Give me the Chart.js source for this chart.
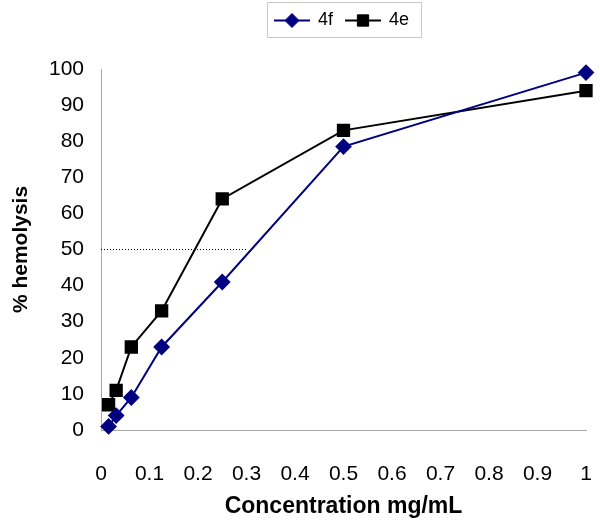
<!doctype html>
<html lang="en">
<head>
<meta charset="utf-8">
<title>Hemolysis</title>
<script src="https://cdn.jsdelivr.net/npm/chart.js@4.4.0/dist/chart.umd.min.js"></script>
<style>
  html, body { margin: 0; padding: 0; background: #fff; }
  .wrapper { width: 600px; height: 525px; }
</style>
</head>
<body>
<div class="wrapper"><canvas id="canvas" width="600" height="525"></canvas></div>
<script>
// concentrations (mg/mL)
var conc = [0.015625, 0.03125, 0.0625, 0.125, 0.25, 0.5, 1];
var hemo4f = [1, 4, 9, 23, 41, 78.5, 99];
var hemo4e = [7, 11, 23, 33, 64, 83, 94];
// dotted 50% reference line
var refX = [0, 0.3];
var refY = [50, 50];
var xTicks = [0, 0.1, 0.2, 0.3, 0.4, 0.5, 0.6, 0.7, 0.8, 0.9, 1];
var yTicks = [0, 10, 20, 30, 40, 50, 60, 70, 80, 90, 100];

function pts(xs, ys) {
  return xs.map(function (x, i) { return { x: x, y: ys[i] }; });
}

var axisGrey = '#a8a8a8';
var font = "'Liberation Sans', Arial, sans-serif";

// excel-style legend: box with line + marker for each series
var legendBox = {
  id: 'legendBox',
  afterDraw: function (chart) {
    var ctx = chart.ctx;
    var items = chart.data.datasets.filter(function (d) { return d.label; });
    ctx.save();
    ctx.font = '18px ' + font;
    var x0 = 267, y0 = 2, w = 154, h = 35;
    ctx.strokeStyle = '#c8c8c8';
    ctx.lineWidth = 1;
    ctx.strokeRect(x0 + 0.5, y0 + 0.5, w, h);
    var x = x0 + 7, cy = y0 + h / 2 + 1;
    items.forEach(function (d) {
      ctx.strokeStyle = d.borderColor;
      ctx.lineWidth = 2;
      ctx.beginPath();
      ctx.moveTo(x, cy);
      ctx.lineTo(x + 36, cy);
      ctx.stroke();
      ctx.fillStyle = d.pointBackgroundColor;
      ctx.lineWidth = 1;
      Chart.helpers.drawPoint(ctx, {
        pointStyle: d.pointStyle, radius: d.pointRadius, borderWidth: 1
      }, x + 18, cy);
      ctx.fillStyle = '#000';
      ctx.textBaseline = 'middle';
      ctx.fillText(d.label, x + 44, cy);
      x += 44 + ctx.measureText(d.label).width + 12;
    });
    ctx.restore();
  }
};

var ctx = document.getElementById('canvas').getContext('2d');
new Chart(ctx, {
  type: 'scatter',
  data: {
    datasets: [{
      label: '4f',
      data: pts(conc, hemo4f),
      showLine: true,
      clip: false,
      borderColor: '#000080',
      backgroundColor: '#000080',
      pointBackgroundColor: '#000080',
      pointBorderColor: '#000080',
      borderWidth: 2,
      pointStyle: 'rectRot',
      pointRadius: 7,
      pointHoverRadius: 7
    }, {
      label: '4e',
      data: pts(conc, hemo4e),
      showLine: true,
      clip: false,
      borderColor: '#000000',
      backgroundColor: '#000000',
      pointBackgroundColor: '#000000',
      pointBorderColor: '#000000',
      borderWidth: 2,
      pointStyle: 'rect',
      pointRadius: 8,
      pointHoverRadius: 8
    }, {
      label: '',
      data: pts(refX, refY),
      showLine: true,
      borderColor: '#000000',
      borderWidth: 1,
      borderDash: [1, 2],
      pointRadius: 0,
      pointHoverRadius: 0
    }]
  },
  options: {
    responsive: false,
    animation: false,
    layout: { padding: { top: 69, right: 14, left: 0, bottom: 0 } },
    plugins: {
      legend: { display: false },
      tooltip: { enabled: false }
    },
    scales: {
      x: {
        type: 'linear',
        min: 0, max: 1,
        afterBuildTicks: function (s) { s.ticks = xTicks.map(function (v) { return { value: v }; }); },
        afterFit: function (s) { s.height = 95; s.paddingLeft = 0; s.paddingRight = 0; },
        grid: { display: false, drawOnChartArea: false, tickLength: 5, tickColor: axisGrey },
        border: { color: axisGrey, width: 1 },
        ticks: {
          color: '#000', font: { size: 21, family: font }, padding: 27, maxRotation: 0,
          callback: function (v) { return String(Math.round(v * 10) / 10); }
        },
        title: { display: true, text: 'Concentration mg/mL', color: '#000', font: { size: 23, weight: 'bold', family: font }, padding: { top: 0, bottom: 5 } }
      },
      y: {
        min: 0, max: 100,
        afterBuildTicks: function (s) { s.ticks = yTicks.map(function (v) { return { value: v }; }); },
        afterFit: function (s) { s.width = 101; s.paddingTop = 0; s.paddingBottom = 0; },
        grid: { display: false, drawOnChartArea: false, tickLength: 5, tickColor: axisGrey },
        border: { color: axisGrey, width: 1 },
        ticks: { color: '#000', font: { size: 21, family: font }, padding: 12 },
        title: { display: true, text: '% hemolysis', color: '#000', font: { size: 21, weight: 'bold', family: font }, padding: { top: 9, bottom: 0 } }
      }
    }
  },
  plugins: [legendBox]
});
</script>
</body>
</html>
